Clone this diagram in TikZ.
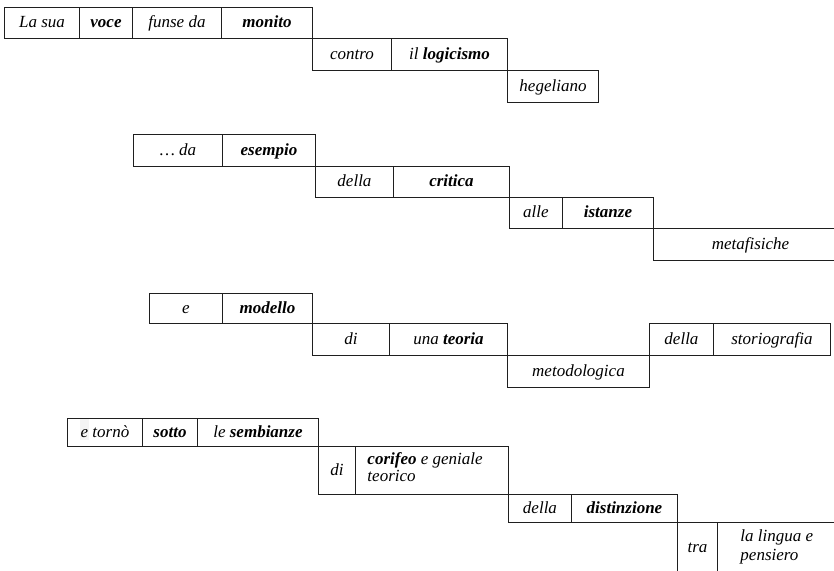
\documentclass[tikz,border=0pt]{standalone}
\usepackage{fontspec}
\setmainfont{Liberation Serif}
\begin{document}
\begin{tikzpicture}[x=1pt,y=-1pt,
  cell/.style={draw=black!88, line width=0.95pt, anchor=north west, inner sep=0pt,
    text height=13pt, text depth=3pt, font=\fontsize{17}{20}\selectfont\itshape},
  cw/.style={minimum width=#1pt},
  ch/.style={minimum height=#1pt},
  twoline/.style={align=flush left, text height=, text depth=, text width=#1pt}]
\useasboundingbox (0,0) rectangle (834,570);
\fill[gray!9] (80,418.5) rectangle (89,440);
% block 1
\node[cell, cw=75, ch=31] (a1) at (4,7) {La sua};
\node[cell, cw=53, ch=31] (a2) at (79,7) {\textbf{voce}};
\node[cell, cw=89, ch=31] (a3) at (132,7) {funse da};
\node[cell, cw=91, ch=31] (a4) at (221,7) {\textbf{monito}};
\node[cell, cw=79, ch=32] (a5) at (312,38) {contro};
\node[cell, cw=116, ch=32] (a6) at (391,38) {il \textbf{logicismo}};
\node[cell, cw=91, ch=32] (a7) at (507,70) {hegeliano};
% block 2
\node[cell, cw=89, ch=32] (b1) at (133,134) {… da};
\node[cell, cw=93, ch=32] (b2) at (222,134) {\textbf{esempio}};
\node[cell, cw=78, ch=31] (b3) at (315,166) {della};
\node[cell, cw=116, ch=31] (b4) at (393,166) {\textbf{critica}};
\node[cell, cw=53, ch=31] (b5) at (509,197) {alle};
\node[cell, cw=91, ch=31] (b6) at (562,197) {\textbf{istanze}};
\node[cell, cw=194, ch=32] (b7) at (653,228) {metafisiche};
% block 3
\node[cell, cw=73, ch=30] (c1) at (149,293) {e};
\node[cell, cw=90, ch=30] (c2) at (222,293) {\textbf{modello}};
\node[cell, cw=77, ch=32] (c3) at (312,323) {di};
\node[cell, cw=118, ch=32] (c4) at (389,323) {una \textbf{teoria}};
\node[cell, cw=142, ch=32] (c5) at (507,355) {metodologica};
\node[cell, cw=64, ch=32] (c6) at (649,323) {della};
\node[cell, cw=117, ch=32] (c7) at (713,323) {storiografia};
% block 4
\node[cell, cw=75, ch=28] (d1) at (67,418) {e tornò};
\node[cell, cw=55, ch=28] (d2) at (142,418) {\textbf{sotto}};
\node[cell, cw=121, ch=28] (d3) at (197,418) {le \textbf{sembianze}};
\node[cell, cw=37, ch=48] (d4) at (318,446) {di};
\node[cell, cw=153, ch=48, twoline=129, font=\fontsize{17}{17}\selectfont\itshape] (d5) at (355,446)
  {\textbf{corifeo} e geniale\\teorico\rule[-7pt]{0pt}{7pt}};
\node[cell, cw=63, ch=28] (d6) at (508,494) {della};
\node[cell, cw=106, ch=28] (d7) at (571,494) {\textbf{distinzione}};
\node[cell, cw=40, ch=49.5] (d8) at (677,522) {tra};
\node[cell, cw=133, ch=49.5, twoline=87, font=\fontsize{17}{19}\selectfont\itshape] (d9) at (717,522)
  {la lingua e\\pensiero};
\end{tikzpicture}
\end{document}
